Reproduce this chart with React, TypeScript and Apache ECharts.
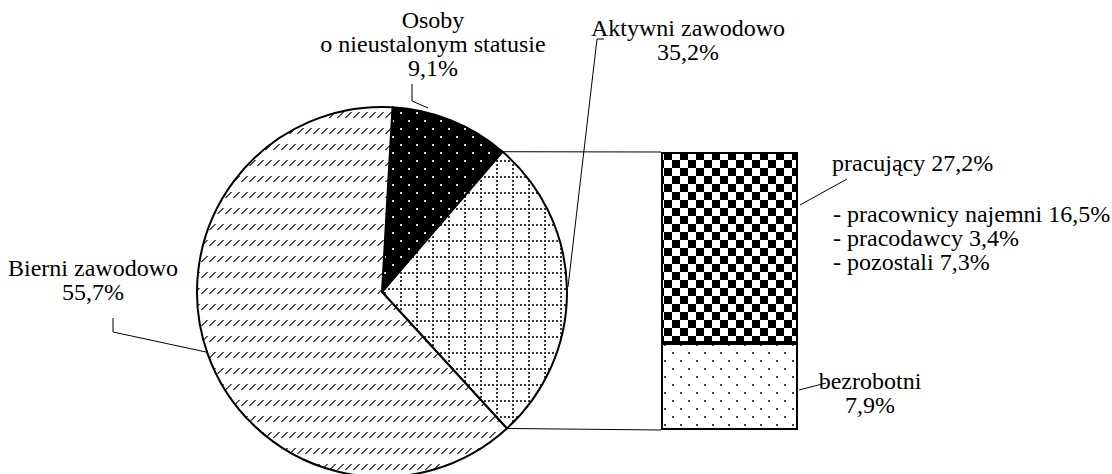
import React, { useEffect, useRef } from 'react';
import * as echarts from 'echarts';

// ---- data ----
const pieNames = ['Osoby\no nieustalonym statusie', 'Aktywni zawodowo', 'Bierni zawodowo'];
const piePercents = [9.1, 35.2, 55.7];
// shares as the slices are actually drawn in the picture
const pieDrawnShares = [10.4, 26.9, 62.7];
const barNames = ['pracujący', 'bezrobotni'];
const barPercents = [27.2, 7.9];
// shares as the bar segments are actually drawn in the picture
const barDrawnShares = [24.1, 11.0];
const workerNames = ['pracownicy najemni', 'pracodawcy', 'pozostali'];
const workerPercents = [16.5, 3.4, 7.3];

const fmt = (v: number) => v.toFixed(1).replace('.', ',') + '%';

// ---- layout ----
const CX = 382;
const CY = 292;
const R = 185;
const START = 86.75;
const BAR_LEFT = 661;
const BAR_TOP = 152;
const BAR_W = 137;
const BAR_H = 278;
const LH = 24;

type Ctx = CanvasRenderingContext2D;
function makeTile(w: number, h: number, draw: (c: Ctx) => void) {
  const c = document.createElement('canvas');
  c.width = w;
  c.height = h;
  const ctx = c.getContext('2d') as Ctx;
  draw(ctx);
  return { image: c.toDataURL(), repeat: 'repeat', imageWidth: w, imageHeight: h };
}

export default function App() {
  const ref = useRef<HTMLDivElement>(null);
  useEffect(() => {
    if (!ref.current) return;
    const chart = echarts.init(ref.current, null, { renderer: 'svg' });

    const osobyFill = makeTile(16, 16, (c) => {
      c.fillStyle = '#000';
      c.fillRect(0, 0, 16, 16);
      c.fillStyle = '#d8d8d8';
      c.fillRect(0, 0, 2, 2);
      c.fillRect(8, 8, 2, 2);
    });
    const aktywniFill = makeTile(16, 16, (c) => {
      c.fillStyle = '#fff';
      c.fillRect(0, 0, 16, 16);
      c.fillStyle = '#3a3a3a';
      for (let k = 0; k < 4; k++) {
        c.fillRect(4 * k, 0, 2, 2);
        c.fillRect(0, 4 * k, 2, 2);
      }
    });
    const bierniFill = makeTile(8, 16, (c) => {
      c.fillStyle = '#fff';
      c.fillRect(0, 0, 8, 16);
      c.fillStyle = '#555';
      for (let i = 0; i < 6; i++) c.fillRect(6 - i, i, 2, 1);
    });
    const pracFill = makeTile(16, 16, (c) => {
      c.fillStyle = '#fff';
      c.fillRect(0, 0, 16, 16);
      c.fillStyle = '#000';
      c.fillRect(0, 0, 8, 8);
      c.fillRect(8, 8, 8, 8);
    });
    const bezFill = makeTile(16, 16, (c) => {
      c.fillStyle = '#fff';
      c.fillRect(0, 0, 16, 16);
      c.fillStyle = '#444';
      c.fillRect(0, 0, 2, 2);
      c.fillRect(8, 8, 2, 2);
    });
    const pieFills = [osobyFill, aktywniFill, bierniFill];
    const barFills = [pracFill, bezFill];

    // connector lines from the "Aktywni" slice edges to the bar corners
    const total = pieDrawnShares.reduce((a, b) => a + b, 0);
    const b1 = START - (360 * pieDrawnShares[0]) / total;
    const b2 = b1 - (360 * pieDrawnShares[1]) / total;
    const pt = (deg: number) => {
      const a = (deg * Math.PI) / 180;
      return [CX + R * Math.cos(a), CY - R * Math.sin(a)];
    };
    const p1 = pt(b1);
    const p2 = pt(b2);

    const line = (pts: number[][]) => ({
      type: 'polyline',
      silent: true,
      shape: { points: pts },
      style: { stroke: '#000', lineWidth: 1, fill: null },
      z: 10,
    });
    const text = (t: string, x: number, y: number, align: string) => ({
      type: 'text',
      silent: true,
      z: 10,
      style: {
        text: t,
        x,
        y,
        fontFamily: 'Liberation Serif',
        fontSize: 24,
        textAlign: align,
        textVerticalAlign: 'middle',
        lineHeight: LH,
        fill: '#000',
      },
    });

    const barTotal = barDrawnShares.reduce((a, b) => a + b, 0);

    chart.setOption({
      animation: false,
      backgroundColor: '#fff',
      grid: { left: BAR_LEFT, top: BAR_TOP, width: BAR_W, height: BAR_H },
      xAxis: { type: 'category', data: ['Aktywni'], show: false },
      yAxis: { type: 'value', min: 0, max: barTotal, show: false },
      series: [
        {
          type: 'pie',
          center: [CX, CY],
          radius: R,
          startAngle: START,
          clockwise: true,
          silent: true,
          emphasis: { disabled: true },
          label: { show: false },
          labelLine: { show: false },
          itemStyle: { borderColor: '#000', borderWidth: 2 },
          data: pieNames.map((n, i) => ({
            name: n,
            value: pieDrawnShares[i],
            itemStyle: { color: pieFills[i] },
          })),
        },
        {
          type: 'bar',
          name: barNames[1],
          stack: 'a',
          barWidth: '100%',
          silent: true,
          data: [barDrawnShares[1]],
          itemStyle: { color: barFills[1], borderColor: '#000', borderWidth: 2 },
        },
        {
          type: 'bar',
          name: barNames[0],
          stack: 'a',
          barWidth: '100%',
          silent: true,
          data: [barDrawnShares[0]],
          itemStyle: { color: barFills[0], borderColor: '#000', borderWidth: 2 },
        },
      ],
      graphic: [
        line([p1, [BAR_LEFT, BAR_TOP]]),
        line([p2, [BAR_LEFT, BAR_TOP + BAR_H]]),
        // label leaders
        line([[412, 84], [412, 101], [428, 108]]),
        line([[604, 39], [597, 39], [568, 287]]),
        line([[113, 318], [113, 332], [206, 352]]),
        line([[847, 179], [800, 205]]),
        line([[826, 383], [799, 390]]),
        text(pieNames[0] + '\n' + fmt(piePercents[0]), 433, 44, 'center'),
        text(pieNames[1] + '\n' + fmt(piePercents[1]), 688, 40, 'center'),
        text(pieNames[2] + '\n' + fmt(piePercents[2]), 93, 280, 'center'),
        text(barNames[0] + ' ' + fmt(barPercents[0]), 832, 163, 'left'),
        text(
          workerNames.map((n, i) => '- ' + n + ' ' + fmt(workerPercents[i])).join('\n'),
          833,
          238,
          'left'
        ),
        text(barNames[1] + '\n' + fmt(barPercents[1]), 870, 393, 'center'),
      ],
    });
    return () => chart.dispose();
  }, []);
  return (
    <div
      ref={ref}
      style={{ position: 'fixed', left: 0, top: 0, width: 1112, height: 474, background: '#fff' }}
    />
  );
}
